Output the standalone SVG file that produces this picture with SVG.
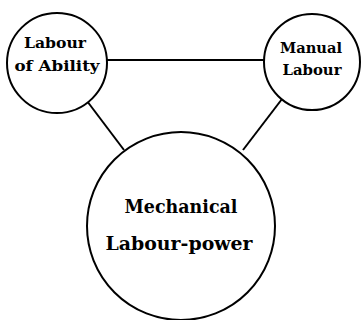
<svg xmlns="http://www.w3.org/2000/svg" width="362" height="320" viewBox="0 0 362 320">
<style>
.node{fill:#fff;stroke:#000;stroke-width:2}
.edge{stroke:#000;stroke-width:2;fill:none}
.t{font-family:"DejaVu Serif","Liberation Serif",serif;font-weight:bold;fill:#000;text-anchor:middle}
.s{font-size:15px}
.b{font-size:18px}
</style>
<rect width="362" height="320" fill="#fff"/>
<g id="connectors">
<line class="edge" x1="106" y1="60" x2="265" y2="60"/>
<line class="edge" x1="87" y1="101" x2="124" y2="150"/>
<line class="edge" x1="282" y1="99" x2="243" y2="150"/>
</g>
<g id="labour-of-ability">
<circle class="node" cx="57" cy="63" r="50"/>
<text class="t s" x="55" y="48" textLength="62" lengthAdjust="spacingAndGlyphs">Labour</text>
<text class="t s" x="57" y="71" textLength="85" lengthAdjust="spacingAndGlyphs">of Ability</text>
</g>
<g id="manual-labour">
<circle class="node" cx="312" cy="62" r="48"/>
<text class="t s" x="311" y="53" textLength="62" lengthAdjust="spacingAndGlyphs">Manual</text>
<text class="t s" x="312" y="75" textLength="59" lengthAdjust="spacingAndGlyphs">Labour</text>
</g>
<g id="mechanical-labour-power">
<circle class="node" cx="181" cy="226" r="94"/>
<text class="t b" x="181" y="213" textLength="113" lengthAdjust="spacingAndGlyphs">Mechanical</text>
<text class="t b" x="179" y="250" textLength="147" lengthAdjust="spacingAndGlyphs">Labour-power</text>
</g>
</svg>
